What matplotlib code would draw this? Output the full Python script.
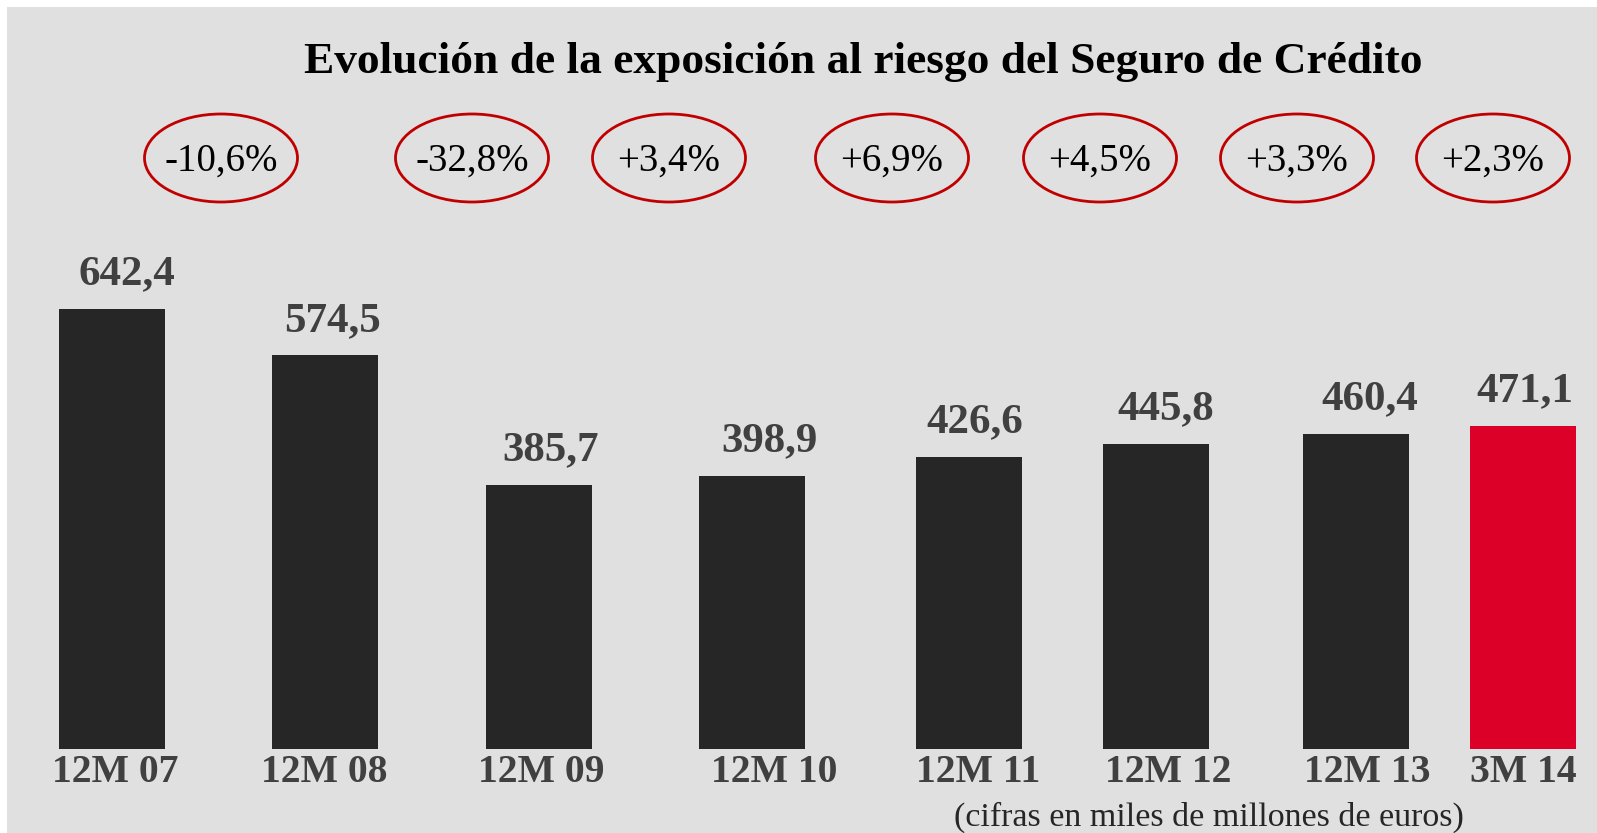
import matplotlib
matplotlib.use("Agg")
import matplotlib.pyplot as plt
from matplotlib.patches import Ellipse, Rectangle

# data
categories = ["12M 07", "12M 08", "12M 09", "12M 10", "12M 11", "12M 12", "12M 13", "3M 14"]
values = [642.4, 574.5, 385.7, 398.9, 426.6, 445.8, 460.4, 471.1]
value_labels = ["642,4", "574,5", "385,7", "398,9", "426,6", "445,8", "460,4", "471,1"]
changes = ["-10,6%", "-32,8%", "+3,4%", "+6,9%", "+4,5%", "+3,3%", "+2,3%"]
title = "Evolución de la exposición al riesgo del Seguro de Crédito"
note = "(cifras en miles de millones de euros)"

# layout, in pixels of the 1597x833 picture
W, H = 1597, 833
bar_x = [112, 325, 539, 752, 969, 1156, 1356, 1523]
value_x = [127, 333, 551, 769, 975, 1166, 1370, 1525]
cat_x = [115, 324, 541, 774, 978, 1168, 1367, 1523]
ell_x = [221, 472, 669, 892, 1100, 1297, 1493]
bar_w = 106
base_px = 84          # zero line, pixels from the bottom
px_per_unit = 0.685

dark = "#262626"
red = "#dc0028"
grey_text = "#404040"

plt.rcParams["font.family"] = ["Liberation Serif", "DejaVu Serif"]

fig = plt.figure(figsize=(W / 100, H / 100), dpi=100, facecolor="white")

# grey panel behind everything
bg = fig.add_axes([0, 0, 1, 1], zorder=0)
bg.set_xlim(0, W)
bg.set_ylim(H, 0)
bg.axis("off")
bg.add_patch(Rectangle((7, 7), W, H, facecolor="#e0e0e0", edgecolor="none"))

ax = fig.add_axes([0, 0, 1, 1], zorder=1)
ax.set_facecolor("none")
ax.set_xlim(0, W)
ax.set_ylim(-base_px / px_per_unit, (H - base_px) / px_per_unit)
ax.axis("off")

colors = [dark] * (len(values) - 1) + [red]
ax.bar(bar_x, values, width=bar_w, color=colors, edgecolor="none")

for x, v, lbl in zip(value_x, values, value_labels):
    ax.annotate(lbl, (x, v), xytext=(0, 25), textcoords="offset points",
                ha="center", va="center", fontsize=31, fontweight="bold", color=grey_text)

# overlay in pixel coordinates for texts and ovals
top = fig.add_axes([0, 0, 1, 1], zorder=2)
top.set_xlim(0, W)
top.set_ylim(H, 0)
top.set_facecolor("none")
top.axis("off")

top.text(863, 62, title, ha="center", va="center", fontsize=32.7, fontweight="bold", color="black")

for x, c in zip(ell_x, changes):
    top.add_patch(Ellipse((x, 158), 153, 88, fill=False, edgecolor="#c00000", linewidth=2))
    top.text(x, 161, c, ha="center", va="center", fontsize=28, color="black")

for x, c in zip(cat_x, categories):
    top.text(x, 772, c, ha="center", va="center", fontsize=28.5, fontweight="bold", color=grey_text)

top.text(1209, 817, note, ha="center", va="center", fontsize=24.5, color=dark)

fig.savefig("out.png", dpi=100, facecolor=fig.get_facecolor())
